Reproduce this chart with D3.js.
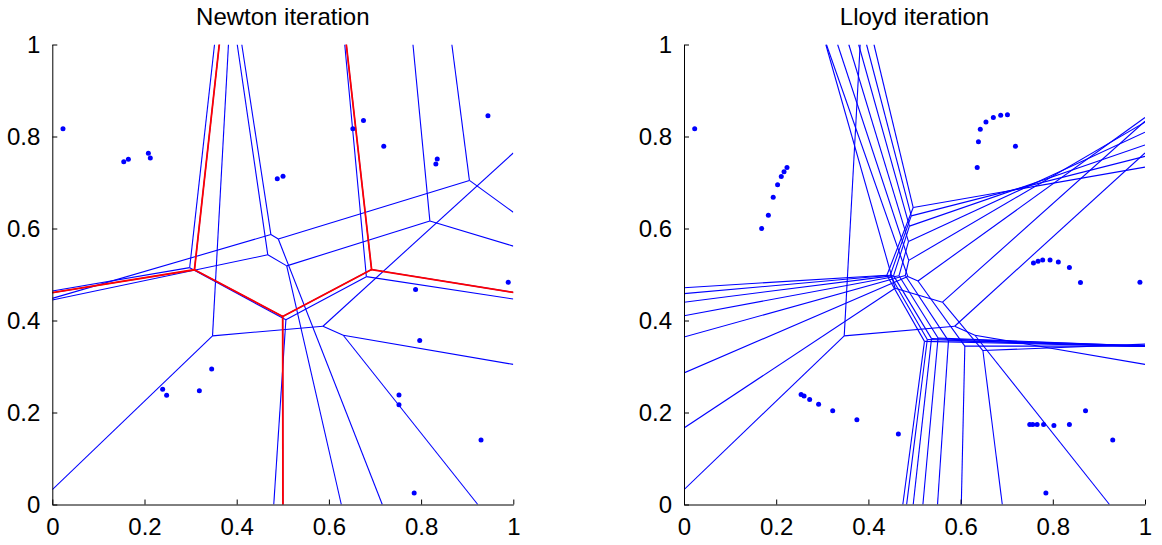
<!DOCTYPE html>
<html><head><meta charset="utf-8">
<script src="https://cdn.jsdelivr.net/npm/d3@7"></script>
<style>body{margin:0;background:#fff}svg{display:block}</style>
</head><body>
<svg id="chart" width="1162" height="545"></svg>
<script>
// ---------------- data ----------------
const xTicks = [0, 0.2, 0.4, 0.6, 0.8, 1];
const yTicks = [0, 0.2, 0.4, 0.6, 0.8, 1];
const tickLabels = ["0", "0.2", "0.4", "0.6", "0.8", "1"];
const titles = ["Newton iteration", "Lloyd iteration"];

// initial generators (shared by both panels)
const initialSites = [[0.0232,0.817],[0.719,0.779],[0.989,0.483],[0.785,0.025],[0.930,0.140]];

// Newton iterates (generators of each iteration)
const newtonIter1 = [[0.2084,0.7637],[0.675,0.835],[1.094,0.889],[0.3457,0.2946],[0.788,0.4675]];
const newtonIter2 = [[0.2126,0.7533],[0.652,0.817],[0.945,0.845],[0.319,0.2474],[0.797,0.3565]];
const newtonIter3 = [[0.155,0.745],[0.488,0.708],[0.832,0.740],[0.2394,0.2504],[0.752,0.2168]];
const newtonIter4 = [[0.165,0.7504],[0.5005,0.7135],[0.835,0.751],[0.248,0.2373],[0.752,0.238]];

// Lloyd trajectories of the five generators (iterations 1..7)
const lloydSite1 = [[0.1685,0.600],[0.183,0.629],[0.1935,0.668],[0.203,0.695],[0.211,0.713],[0.217,0.7236],[0.2234,0.7326]];
const lloydSite2 = [[0.636,0.7326],[0.6387,0.7885],[0.6427,0.8157],[0.655,0.8316],[0.671,0.8414],[0.687,0.846],[0.7016,0.8474]];
const lloydSite3 = [[0.860,0.4826],[0.836,0.515],[0.812,0.527],[0.794,0.5317],[0.778,0.5317],[0.768,0.5287],[0.758,0.525]];
const lloydSite4 = [[0.465,0.153],[0.375,0.184],[0.3226,0.204],[0.292,0.218],[0.2726,0.228],[0.2605,0.2357],[0.254,0.2394]];
const lloydSite5 = [[0.871,0.204],[0.836,0.1737],[0.8024,0.172],[0.780,0.1737],[0.766,0.1737],[0.7565,0.1737],[0.750,0.1737]];

// ---------------- build ----------------
const newtonDiagrams = [initialSites, newtonIter1, newtonIter2, newtonIter3, newtonIter4];
const newtonFinal = newtonIter4;
const newtonDots = [].concat(initialSites, newtonIter1, newtonIter2, newtonIter3, newtonIter4);

const lloydTraj = [lloydSite1, lloydSite2, lloydSite3, lloydSite4, lloydSite5];
const lloydDiagrams = [initialSites].concat(lloydSite1.map((_, k) => lloydTraj.map(t => t[k])));
const lloydDots = [].concat(initialSites, ...lloydTraj);

function voronoiEdges(sites) {
  const vor = d3.Delaunay.from(sites).voronoi([0, 0, 1, 1]);
  const eps = 1e-7, seen = new Set(), segs = [];
  const same = (u, v) => Math.abs(u - v) < eps;
  for (let i = 0; i < sites.length; i++) {
    const poly = vor.cellPolygon(i);
    if (!poly) continue;
    for (let k = 0; k < poly.length - 1; k++) {
      const a = poly[k], b = poly[k + 1];
      if (same(a[0], b[0]) && same(a[1], b[1])) continue;
      const onBorder =
        (same(a[0], 0) && same(b[0], 0)) || (same(a[0], 1) && same(b[0], 1)) ||
        (same(a[1], 0) && same(b[1], 0)) || (same(a[1], 1) && same(b[1], 1));
      if (onBorder) continue;
      const key = [a, b].map(p => p[0].toFixed(6) + "," + p[1].toFixed(6)).sort().join("|");
      if (seen.has(key)) continue;
      seen.add(key);
      segs.push([a, b]);
    }
  }
  return segs;
}

const svg = d3.select("#chart");
const font = "'Liberation Sans', Arial, Helvetica, sans-serif";
const yTop = 44.5, yBot = 504.5;

const panels = [
  { x0: 52.3, x1: 513.3, title: titles[0], diagrams: newtonDiagrams, final: newtonFinal, dots: newtonDots },
  { x0: 684, x1: 1145, title: titles[1], diagrams: lloydDiagrams, final: null, dots: lloydDots }
];

panels.forEach((p, pi) => {
  const x = d3.scaleLinear().domain([0, 1]).range([p.x0, p.x1]);
  const y = d3.scaleLinear().domain([0, 1]).range([yBot, yTop]);
  const g = svg.append("g");

  const clipId = "clip" + pi;
  g.append("clipPath").attr("id", clipId).append("rect")
    .attr("x", p.x0).attr("y", yTop).attr("width", p.x1 - p.x0).attr("height", yBot - yTop);
  const plot = g.append("g").attr("clip-path", `url(#${clipId})`);
  const line = d3.line().x(d => x(d[0])).y(d => y(d[1]));

  // blue diagrams
  p.diagrams.forEach(sites => {
    voronoiEdges(sites).forEach(seg => {
      plot.append("path").attr("d", line(seg)).attr("fill", "none")
        .attr("stroke", "#0000ff").attr("stroke-width", 1.1);
    });
  });
  // final diagram in red
  if (p.final) {
    voronoiEdges(p.final).forEach(seg => {
      plot.append("path").attr("d", line(seg)).attr("fill", "none")
        .attr("stroke", "#ff0000").attr("stroke-width", 1.8).attr("stroke-linecap", "round");
    });
  }
  // generators
  plot.selectAll("circle.dot").data(p.dots).enter().append("circle")
    .attr("class", "dot").attr("cx", d => x(d[0])).attr("cy", d => y(d[1]))
    .attr("r", 2.5).attr("fill", "#0000ff");

  // axes (left + bottom, ticks inward)
  const xAxis = d3.axisBottom(x).tickValues(xTicks).tickFormat((d, i) => tickLabels[i])
    .tickSizeInner(-5).tickSizeOuter(0).tickPadding(13);
  const yAxis = d3.axisLeft(y).tickValues(yTicks).tickFormat((d, i) => tickLabels[i])
    .tickSizeInner(-5).tickSizeOuter(0).tickPadding(12);
  const gx = g.append("g").attr("transform", `translate(0,${yBot})`).call(xAxis);
  const gy = g.append("g").attr("transform", `translate(${p.x0},0)`).call(yAxis);
  [gx, gy].forEach(ax => {
    ax.selectAll("path.domain").attr("stroke", "#000").attr("stroke-width", 1);
    ax.selectAll(".tick line").attr("stroke", "#000").attr("stroke-width", 1);
    ax.selectAll(".tick text").attr("font-family", font).attr("font-size", 24).attr("fill", "#000");
  });

  g.append("text").attr("x", (p.x0 + p.x1) / 2).attr("y", 25)
    .attr("text-anchor", "middle").attr("font-family", font).attr("font-size", 24)
    .attr("fill", "#000").text(p.title);
});
</script>
</body></html>
